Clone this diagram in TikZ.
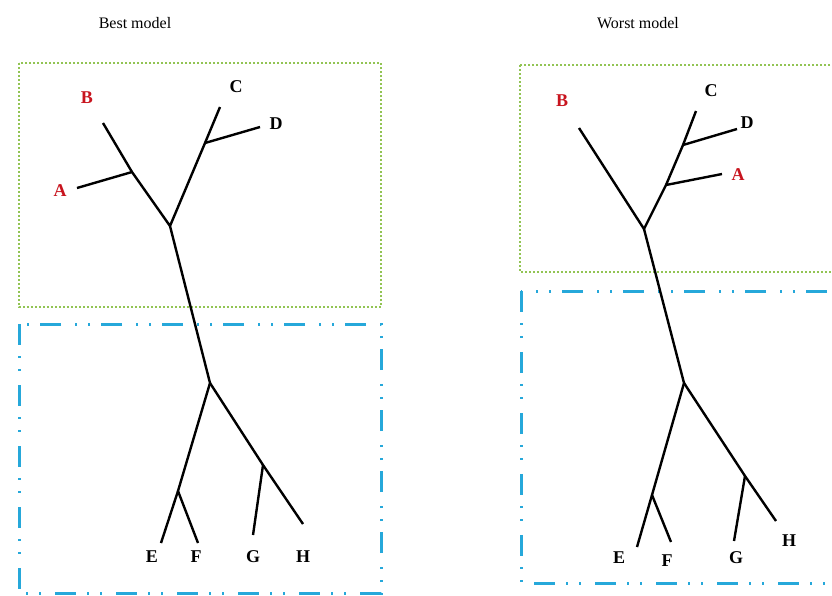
\documentclass[tikz,border=0pt]{standalone}
\usepackage{fontspec}
\setmainfont{Liberation Serif}
\definecolor{boxgreen}{RGB}{146,196,84}
\definecolor{boxblue}{RGB}{38,168,218}
\definecolor{leafred}{RGB}{200,20,30}
\begin{document}
\begin{tikzpicture}[x=1pt,y=-1pt,
  greenbox/.style={draw=boxgreen, line width=1.8pt, dash pattern=on 2pt off 2pt},
  bluebox/.style={draw=boxblue, line width=3pt, dash pattern=on 21pt off 11pt on 2pt off 11pt on 2pt off 14pt},
  branch/.style={draw=black, line width=2.4pt},
  leaf/.style={font=\bfseries\fontsize{18}{18}\selectfont, inner sep=0pt},
  redleaf/.style={leaf, text=leafred},
  title/.style={font=\fontsize{16}{16}\selectfont, inner sep=0pt}
]
\useasboundingbox (0,0) rectangle (832,595);
\clip (0,0) rectangle (832,595);

% ---------- left panel: best model ----------
\node[title] (t1) at (135,23) {Best model};
\draw[greenbox] (19,63) rectangle (381,307);
\draw[bluebox] (19,324) rectangle (381,593);

\coordinate (r1) at (170,226);
\coordinate (ab1) at (132,172);
\coordinate (b1) at (103,123);
\coordinate (a1) at (77,188);
\coordinate (cd1) at (205,143);
\coordinate (c1) at (220,107);
\coordinate (d1) at (260,127);
\coordinate (m1) at (210,383);
\coordinate (ef1) at (178,491);
\coordinate (e1) at (161,543);
\coordinate (f1) at (198,543);
\coordinate (gh1) at (263,465);
\coordinate (g1) at (253,535);
\coordinate (h1) at (303,524);

\draw[branch] (b1) -- (ab1) -- (r1) -- (cd1) -- (c1);
\draw[branch] (a1) -- (ab1);
\draw[branch] (cd1) -- (d1);
\draw[branch] (r1) -- (m1) -- (ef1) -- (e1);
\draw[branch] (ef1) -- (f1);
\draw[branch] (m1) -- (gh1) -- (h1);
\draw[branch] (gh1) -- (g1);

\node[redleaf] (lb1) at (87,98) {B};
\node[redleaf] (la1) at (60,191) {A};
\node[leaf] (lc1) at (236,87) {C};
\node[leaf] (ld1) at (276,124) {D};
\node[leaf] (le1) at (152,557) {E};
\node[leaf] (lf1) at (196,557) {F};
\node[leaf] (lg1) at (253,557) {G};
\node[leaf] (lh1) at (303,557) {H};

% ---------- right panel: worst model ----------
\node[title] (t2) at (638,23) {Worst model};
\draw[greenbox] (520,65) rectangle (860,272);
\draw[bluebox] (521,291) rectangle (870,583);

\coordinate (r2) at (644,229);
\coordinate (b2) at (579,128);
\coordinate (an2) at (666,185);
\coordinate (a2) at (722,174);
\coordinate (cd2) at (683,145);
\coordinate (c2) at (696,111);
\coordinate (d2) at (737,129);
\coordinate (m2) at (684,383);
\coordinate (ef2) at (652,495);
\coordinate (e2) at (637,547);
\coordinate (f2) at (671,542);
\coordinate (gh2) at (745,476);
\coordinate (g2) at (734,541);
\coordinate (h2) at (776,521);

\draw[branch] (b2) -- (r2) -- (an2) -- (cd2) -- (c2);
\draw[branch] (an2) -- (a2);
\draw[branch] (cd2) -- (d2);
\draw[branch] (r2) -- (m2) -- (ef2) -- (e2);
\draw[branch] (ef2) -- (f2);
\draw[branch] (m2) -- (gh2) -- (h2);
\draw[branch] (gh2) -- (g2);

\node[redleaf] (lb2) at (562,101) {B};
\node[redleaf] (la2) at (738,175) {A};
\node[leaf] (lc2) at (711,91) {C};
\node[leaf] (ld2) at (747,123) {D};
\node[leaf] (le2) at (619,558) {E};
\node[leaf] (lf2) at (667,561) {F};
\node[leaf] (lg2) at (736,558) {G};
\node[leaf] (lh2) at (789,541) {H};
\end{tikzpicture}
\end{document}
